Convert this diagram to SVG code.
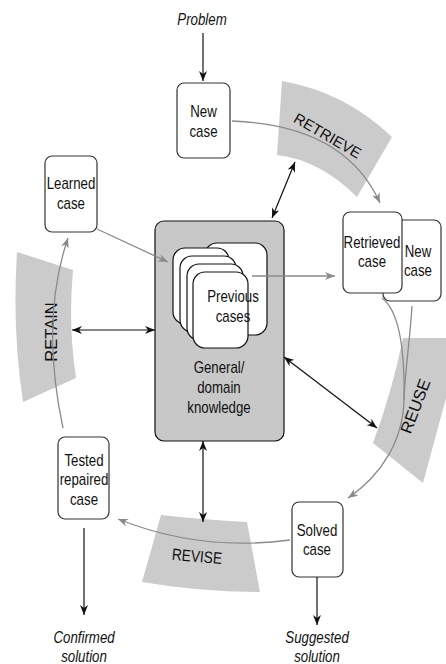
<svg xmlns="http://www.w3.org/2000/svg" width="446" height="664" viewBox="0 0 446 664">
  <style>
    text { font-family: "Liberation Sans", Arial, sans-serif; font-size: 16px; fill: #111; text-anchor: middle; }
    text.n { transform-box: fill-box; transform-origin: center; transform: scaleX(0.83); }
    .it { font-style: italic; }
    .band { fill: #cbcbcb; stroke: none; }
    .bandlbl { font-size: 16.5px; }
    .box { fill: #fff; stroke: #333; stroke-width: 1.2; }
    .card { fill: #fff; stroke: #111; stroke-width: 1.2; }
    .blk { fill: none; stroke: #111; stroke-width: 1.2; }
    .gry { fill: none; stroke: #8a8a8a; stroke-width: 1.3; }
  </style>
  <defs>
    <marker id="ahb" viewBox="0 0 10 8" refX="10" refY="4" markerWidth="10" markerHeight="8" markerUnits="userSpaceOnUse" orient="auto-start-reverse">
      <path d="M0,0 L10,4 L0,8 L3,4 Z" fill="#111"/>
    </marker>
    <marker id="ahg" viewBox="0 0 10 8" refX="10" refY="4" markerWidth="10" markerHeight="8" markerUnits="userSpaceOnUse" orient="auto">
      <path d="M0,0 L10,4 L0,8 L3,4 Z" fill="#8a8a8a"/>
    </marker>
  </defs>

  <!-- process bands -->
  <g id="band-retrieve">
    <path class="band" d="M282,81 Q345,92 392,137 L357,197 Q320,160 277,155 Z"/>
    <text class="bandlbl" transform="translate(328,135) rotate(30)" y="6" style="font-size:15px">RETRIEVE</text>
  </g>
  <g id="band-reuse">
    <path class="band" d="M403,338 L446,338 L446,398 L423,483 L373,443 Q392,392 403,338 Z"/>
    <text class="bandlbl" transform="translate(415,406) rotate(-69)" y="6">REUSE</text>
  </g>
  <g id="band-revise">
    <path class="band" d="M161,515 Q205,520 247,522 L260,592 Q200,592 142,582 Z"/>
    <g transform="translate(197,556) rotate(5)">
      <text class="bandlbl n" y="6">REVISE</text>
    </g>
  </g>
  <g id="band-retain">
    <path class="band" d="M17,252 L73,270 Q68,325 76,378 L23,402 Q12,330 17,252 Z"/>
    <text class="bandlbl" transform="translate(51,332) rotate(-90)" y="6">RETAIN</text>
  </g>

  <!-- free labels -->
  <text class="n it" x="202" y="25">Problem</text>
  <text class="n it" x="317" y="643">Suggested</text>
  <text class="n it" x="317" y="662">solution</text>
  <text class="n it" x="84" y="643">Confirmed</text>
  <text class="n it" x="84" y="662">solution</text>

  <!-- nodes -->
  <g id="new-case">
    <rect class="box" x="177" y="83" width="53" height="75" rx="7"/>
    <text class="n" x="203.5" y="117">New</text>
    <text class="n" x="203.5" y="137">case</text>
  </g>

  <g id="knowledge">
    <rect x="155" y="221" width="129" height="220" rx="9" fill="#c8c8c8" stroke="#111" stroke-width="1.2"/>
    <text class="n" x="219" y="373">General/</text>
    <text class="n" x="219" y="393">domain</text>
    <text class="n" x="219" y="413">knowledge</text>
  </g>

  <g id="previous-cases">
    <rect class="card" x="205" y="243" width="62" height="92" rx="12"/>
    <rect class="card" x="173" y="248" width="56" height="76" rx="12"/>
    <rect class="card" x="180" y="256" width="56" height="76" rx="12"/>
    <rect class="card" x="187" y="264" width="56" height="76" rx="12"/>
    <rect class="card" x="193" y="272" width="55" height="76" rx="12"/>
    <text class="n" x="233" y="302">Previous</text>
    <text class="n" x="233" y="322">cases</text>
  </g>

  <g id="retrieved-case">
    <rect class="box" x="383" y="220" width="58" height="81" rx="7" stroke="#555"/>
    <text class="n" x="418" y="257">New</text>
    <text class="n" x="418" y="276">case</text>
    <rect class="box" x="343" y="212" width="59" height="81" rx="7" stroke="#444"/>
    <text class="n" x="372" y="248">Retrieved</text>
    <text class="n" x="372" y="267">case</text>
  </g>

  <g id="solved-case">
    <rect class="box" x="292" y="502" width="51" height="75" rx="7" stroke="#999"/>
    <text class="n" x="317" y="536">Solved</text>
    <text class="n" x="317" y="555">case</text>
  </g>

  <g id="tested-case">
    <rect class="box" x="58" y="437" width="51" height="82" rx="7" stroke="#555"/>
    <text class="n" x="84" y="466">Tested</text>
    <text class="n" x="84" y="485">repaired</text>
    <text class="n" x="84" y="505">case</text>
  </g>

  <g id="learned-case">
    <rect class="box" x="45" y="156" width="52" height="76" rx="7" stroke="#444"/>
    <text class="n" x="71" y="189">Learned</text>
    <text class="n" x="71" y="209">case</text>
  </g>

  <!-- connectors -->
  <g id="connectors">
    <line class="blk" x1="203" y1="33" x2="203" y2="81" marker-end="url(#ahb)"/>
    <path class="gry" d="M232,121 Q345,125 380,203" marker-end="url(#ahg)"/>
    <line class="blk" x1="272" y1="218" x2="295" y2="162" marker-start="url(#ahb)" marker-end="url(#ahb)"/>
    <line class="gry" x1="252" y1="276" x2="335" y2="276" marker-end="url(#ahg)"/>
    <path class="gry" d="M382,298 C398,310 405,345 404,400"/>
    <path class="gry" d="M412,306 C410,340 405,370 404,400 C403,440 382,475 348,498" marker-end="url(#ahg)"/>
    <line class="blk" x1="284" y1="357" x2="377" y2="428" marker-start="url(#ahb)" marker-end="url(#ahb)"/>
    <line class="blk" x1="317" y1="577" x2="317" y2="625" marker-end="url(#ahb)"/>
    <path class="gry" d="M290,540 Q200,552 118,519" marker-end="url(#ahg)"/>
    <line class="blk" x1="203" y1="441" x2="203" y2="522" marker-start="url(#ahb)" marker-end="url(#ahb)"/>
    <line class="blk" x1="84" y1="528" x2="84" y2="615" marker-end="url(#ahb)"/>
    <path class="gry" d="M63,428 Q40,320 68,238" marker-end="url(#ahg)"/>
    <line class="blk" x1="72" y1="330" x2="155" y2="330" marker-start="url(#ahb)" marker-end="url(#ahb)"/>
    <line class="gry" x1="97" y1="229" x2="168" y2="262" marker-end="url(#ahg)"/>
  </g>
</svg>
